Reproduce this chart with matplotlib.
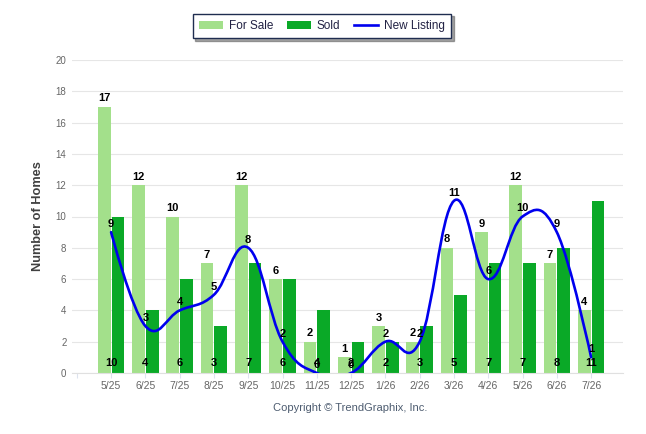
import matplotlib
matplotlib.use("Agg")
import matplotlib.pyplot as plt
from matplotlib.path import Path
from matplotlib.patches import PathPatch, Patch
from matplotlib.lines import Line2D
import numpy as np

plt.rcParams['font.family'] = ['Liberation Sans', 'DejaVu Sans']

months = ["5/25", "6/25", "7/25", "8/25", "9/25", "10/25", "11/25", "12/25",
          "1/26", "2/26", "3/26", "4/26", "5/26", "6/26", "7/26"]
for_sale = [17, 12, 10, 7, 12, 6, 2, 1, 3, 2, 8, 9, 12, 7, 4]
sold = [10, 4, 6, 3, 7, 6, 4, 2, 2, 3, 5, 7, 7, 8, 11]
new_listing = [9, 3, 4, 5, 8, 2, 0, 0, 2, 2, 11, 6, 10, 9, 1]

C_SALE = "#a3e08b"
C_SOLD = "#0aa927"
C_LINE = "#0000ee"


def spline_path(xs, ys, smoothing=1.5):
    n = len(xs)
    lc = [None] * n
    rc = [None] * n
    d = smoothing + 1
    for i in range(1, n - 1):
        px, py = xs[i], ys[i]
        lx, ly = xs[i - 1], ys[i - 1]
        nx, ny = xs[i + 1], ys[i + 1]
        lcx = (smoothing * px + lx) / d
        lcy = (smoothing * py + ly) / d
        rcx = (smoothing * px + nx) / d
        rcy = (smoothing * py + ny) / d
        if rcx != lcx:
            corr = ((rcy - lcy) * (rcx - px)) / (rcx - lcx) + py - rcy
            lcy += corr
            rcy += corr
        lc[i] = (lcx, lcy)
        rc[i] = (rcx, rcy)
    verts = [(xs[0], ys[0])]
    codes = [Path.MOVETO]
    for i in range(1, n):
        c1 = rc[i - 1] if rc[i - 1] is not None else (xs[i - 1], ys[i - 1])
        c2 = lc[i] if lc[i] is not None else (xs[i], ys[i])
        verts += [c1, c2, (xs[i], ys[i])]
        codes += [Path.CURVE4] * 3
    return Path(verts, codes)


W, H = 646, 434
fig = plt.figure(figsize=(W / 100, H / 100), dpi=100)
ax = fig.add_axes([72 / W, 1 - 373 / H, (623 - 72) / W, (373 - 60) / H])

x = np.arange(len(months))
bw = 0.37
off = 0.2
ax.bar(x - off, for_sale, width=bw, color=C_SALE, zorder=2)
ax.bar(x + off, sold, width=bw, color=C_SOLD, zorder=2)

path = spline_path(list(x.astype(float)), [float(v) for v in new_listing])
ax.add_patch(PathPatch(path, facecolor="none", edgecolor=C_LINE, lw=1.9,
                       zorder=3, capstyle="round", joinstyle="round"))

lab_kw = dict(fontsize=8, fontweight="bold", color="#000000", ha="center",
              zorder=5, textcoords="offset points")
for i in range(len(months)):
    ax.annotate(str(for_sale[i]), (x[i] - off, for_sale[i]), xytext=(0, 2.5),
                va="bottom", **lab_kw)
    ax.annotate(str(sold[i]), (x[i] + 0.0, 0), xytext=(0, 7.2),
                va="center", **lab_kw)
    ax.annotate(str(new_listing[i]), (x[i], new_listing[i]), xytext=(0, 5.8),
                va="center", **lab_kw)

ax.set_ylim(0, 20)
ax.set_yticks(range(0, 21, 2))
ax.set_xlim(-1.14, 14.93)
ax.set_xticks(np.arange(-1, len(months)))
ax.set_xticklabels([""] + months)

ax.grid(axis="y", color="#e6e6e6", lw=0.8, zorder=0)
ax.set_axisbelow(True)
for s in ["top", "right", "left"]:
    ax.spines[s].set_visible(False)
ax.spines["bottom"].set_color("#e0e0e0")
ax.spines["bottom"].set_linewidth(0.8)
ax.tick_params(axis="y", length=0, labelsize=7, labelcolor="#666666", pad=4)
ax.tick_params(axis="x", length=3.6, color="#dde3ee", labelsize=7.5,
               labelcolor="#666666", pad=2.5)

ax.set_ylabel("Number of Homes", fontsize=9.2, fontweight="bold",
              color="#404040")
ax.yaxis.set_label_coords(-28 / (623 - 72), 0.5)

fig.text(350 / W, 1 - 408 / H, "Copyright \u00a9 TrendGraphix, Inc.",
         ha="center", va="center", fontsize=8, color="#4d5c70")

handles = [Patch(facecolor=C_SALE, edgecolor="none"),
           Patch(facecolor=C_SOLD, edgecolor="none"),
           Line2D([0], [0], color=C_LINE, lw=1.9)]
leg = fig.legend(handles, ["For Sale", "Sold", "New Listing"], ncol=3,
                 loc="center", bbox_to_anchor=(322 / W, 1 - 26 / H),
                 fontsize=8.5, frameon=True, fancybox=False, shadow=True,
                 handlelength=2.0, handleheight=0.6, columnspacing=1.2,
                 handletextpad=0.5, borderpad=0.55, borderaxespad=0)
leg.get_frame().set_edgecolor("#1f2d50")
leg.get_frame().set_linewidth(1.0)
for t in leg.get_texts():
    t.set_color("#222244")

fig.savefig("out.png", dpi=100)
